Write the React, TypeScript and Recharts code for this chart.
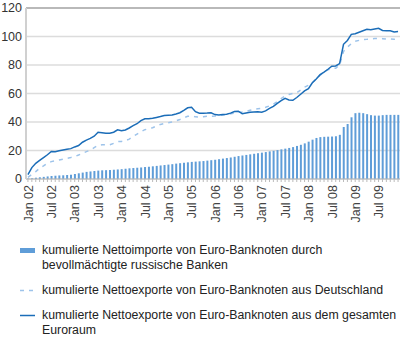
import React from 'react';
import {
  ComposedChart,
  Bar,
  Line,
  XAxis,
  YAxis,
  CartesianGrid,
  ReferenceLine
} from 'recharts';

const monthNames = ['Jan', 'Feb', 'Mar', 'Apr', 'May', 'Jun', 'Jul', 'Aug', 'Sep', 'Oct', 'Nov', 'Dec'];
const years = ['02', '03', '04', '05', '06', '07', '08', '09'];

// Monatskategorien Jan 02 bis Dez 09
const months = years.flatMap(y => monthNames.map(m => `${m} ${y}`));

// kumulierte Nettoimporte durch bevollmächtigte russische Banken (Mrd Euro)
const russianImports = [
  0.3, 0.6, 0.9, 1.2, 1.5, 1.8, 2.1, 2.3, 2.5, 2.6, 2.8, 3.0,
  3.5, 4.0, 4.5, 5.0, 5.3, 5.6, 5.9, 6.1, 6.2, 6.3, 6.5, 6.7,
  6.9, 7.2, 7.5, 7.7, 7.9, 8.1, 8.4, 8.6, 8.9, 9.2, 9.5, 9.8,
  10.1, 10.4, 10.8, 11.1, 11.4, 11.7, 12.0, 12.2, 12.4, 12.6, 12.9, 13.2,
  13.5, 13.9, 14.3, 14.7, 15.1, 15.6, 16.1, 16.5, 16.9, 17.3, 17.7, 18.1,
  18.5, 18.9, 19.4, 19.8, 20.3, 20.8, 21.3, 21.8, 22.4, 23.2, 24.0, 25.0,
  26.2, 27.6, 28.8, 29.4, 29.6, 29.7, 29.8, 30.0, 31.0, 36.5, 38.6, 43.3,
  46.2, 46.5, 46.2, 45.5, 44.8, 44.5, 44.5, 44.8, 45.0, 45.0, 45.0, 45.0
];

// kumulierte Nettoexporte aus Deutschland
const germanyExports = [
  1.2, 3.2, 5.2, 7.5, 9.2, 11.0, 12.2, 12.8, 13.4, 13.9, 14.5, 15.1,
  15.8, 16.8, 18.0, 19.2, 20.3, 22.0, 23.6, 24.0, 24.0, 24.0, 25.0, 26.2,
  26.4, 26.9, 28.0, 29.8, 31.5, 33.2, 34.6, 35.2, 36.0, 37.2, 38.3, 39.0,
  39.4, 40.0, 40.8, 41.8, 43.0, 44.0, 44.2, 43.6, 43.5, 43.7, 44.0, 44.1,
  44.2, 44.5, 44.8, 45.2, 45.8, 46.3, 46.8, 47.1, 47.5, 48.2, 48.9, 49.3,
  49.6, 50.3, 51.3, 52.5, 54.3, 56.5, 58.3, 59.3, 60.0, 60.6, 62.5, 64.5,
  65.8, 67.5, 70.3, 72.8, 75.0, 76.6, 77.5, 77.7, 80.0, 89.5, 92.5, 95.0,
  96.6, 97.3, 97.8, 98.0, 98.3, 98.6, 98.7, 98.5, 98.2, 98.2, 98.0, 98.2
];

// kumulierte Nettoexporte aus dem gesamten Euroraum
const euroAreaExports = [
  3.0, 8.0, 11.0, 13.0, 15.0, 17.0, 19.3, 19.2, 19.8, 20.3, 20.8, 21.3,
  22.5, 23.5, 25.8, 27.3, 28.5, 30.0, 32.8, 32.5, 32.1, 32.1, 32.8, 34.5,
  33.8, 34.4, 35.8, 37.4, 38.8, 41.0, 42.3, 42.2, 42.6, 43.2, 43.8, 44.6,
  44.8, 44.9, 45.6, 46.5, 48.2, 50.0, 50.3, 47.2, 46.1, 46.2, 46.3, 46.5,
  45.2, 45.0, 45.2, 45.4, 46.2, 47.3, 47.6, 45.8, 46.3, 46.8, 47.0, 47.2,
  46.9, 47.8, 49.5, 51.0, 53.0, 55.0, 56.6, 55.5, 55.2, 57.2, 59.5, 61.8,
  63.4, 67.5, 70.2, 73.2, 75.0, 77.0, 79.2, 79.3, 81.0, 94.5, 97.2, 101.5,
  102.0, 103.0, 104.0, 105.0, 104.8, 105.3, 105.8, 104.2, 104.0, 104.0, 103.2, 103.5
];

const yTicks = [0, 20, 40, 60, 80, 100, 120];

const barColor = '#5f9dd8';
const dashColor = '#9dc3ea';
const lineColor = '#1b6db8';
const font = '"Liberation Sans", Arial, Helvetica, sans-serif';

const data = months.map((month, i) => ({
  month,
  ru: russianImports[i],
  de: germanyExports[i],
  ea: euroAreaExports[i],
}));

const MonthTick = (props: any) => {
  const { x, y, payload } = props;
  const label: string = payload.value;
  const show = label.startsWith('Jan') || label.startsWith('Jul');
  return (
    <g>
      <line x1={x} y1={y} x2={x} y2={y + 3} stroke="#bbb" strokeWidth={1} />
      {show && (
        <text
          x={x}
          y={y + 6}
          transform={`rotate(-90 ${x} ${y + 6})`}
          textAnchor="end"
          dy="0.38em"
          fontSize={12.5}
          fill="#444"
          fontFamily={font}
        >
          {label}
        </text>
      )}
    </g>
  );
};

const legendItems = [
  { kind: 'bar', lines: ['kumulierte Nettoimporte von Euro-Banknoten durch', 'bevollmächtigte russische Banken'] },
  { kind: 'dash', lines: ['kumulierte Nettoexporte von Euro-Banknoten aus Deutschland'] },
  { kind: 'line', lines: ['kumulierte Nettoexporte von Euro-Banknoten aus dem gesamten', 'Euroraum'] },
];

const Swatch: React.FC<{ kind: string }> = ({ kind }) => (
  <svg width={16} height={15} style={{ display: 'block' }}>
    {kind === 'bar' && <rect x={0} y={5} width={15} height={5} fill={barColor} />}
    {kind === 'dash' && (
      <line x1={0} y1={7.5} x2={15} y2={7.5} stroke={dashColor} strokeWidth={1.5} strokeDasharray="4 5" />
    )}
    {kind === 'line' && <line x1={0} y1={7.5} x2={15} y2={7.5} stroke={lineColor} strokeWidth={1.5} />}
  </svg>
);

const App: React.FC = () => {
  return (
    <div style={{ position: 'absolute', left: 0, top: 0, width: 400, height: 339, background: '#fff', fontFamily: font }}>
      <ComposedChart
        width={400}
        height={235}
        data={data}
        margin={{ top: 8, right: 0, left: 0, bottom: 0 }}
        barCategoryGap="30%"
      >
        <CartesianGrid vertical={false} stroke="#dcdcdc" strokeWidth={1.5} />
        <XAxis
          dataKey="month"
          interval={0}
          height={56}
          tickSize={0}
          tickMargin={0}
          tickLine={false}
          axisLine={{ stroke: '#bbb' }}
          tick={<MonthTick />}
        />
        <YAxis
          domain={[0, 120]}
          ticks={yTicks}
          width={26}
          tickLine={false}
          tickSize={4}
          tickMargin={0}
          axisLine={{ stroke: '#d0d0d0', strokeWidth: 2 }}
          tick={{ fontSize: 12.5, fill: '#333', fontFamily: font }}
        />
        <ReferenceLine y={120} stroke="#aaa" strokeWidth={1.5} />
        <Bar dataKey="ru" fill={barColor} isAnimationActive={false} />
        <Line
          type="linear"
          dataKey="de"
          stroke={dashColor}
          strokeWidth={1.5}
          strokeDasharray="4 5"
          dot={false}
          isAnimationActive={false}
        />
        <Line
          type="linear"
          dataKey="ea"
          stroke={lineColor}
          strokeWidth={1.5}
          dot={false}
          isAnimationActive={false}
        />
      </ComposedChart>
      <div style={{ position: 'absolute', left: 20, top: 243, fontSize: 12.3, color: '#222', lineHeight: '15px' }}>
        {legendItems.map((item, i) => (
          <div key={i} style={{ display: 'flex', alignItems: 'flex-start', marginBottom: 10 }}>
            <div style={{ width: 22, flex: 'none' }}>
              <Swatch kind={item.kind} />
            </div>
            <div style={{ whiteSpace: 'nowrap' }}>
              {item.lines.map((l, j) => (
                <div key={j}>{l}</div>
              ))}
            </div>
          </div>
        ))}
      </div>
    </div>
  );
};

export default App;
